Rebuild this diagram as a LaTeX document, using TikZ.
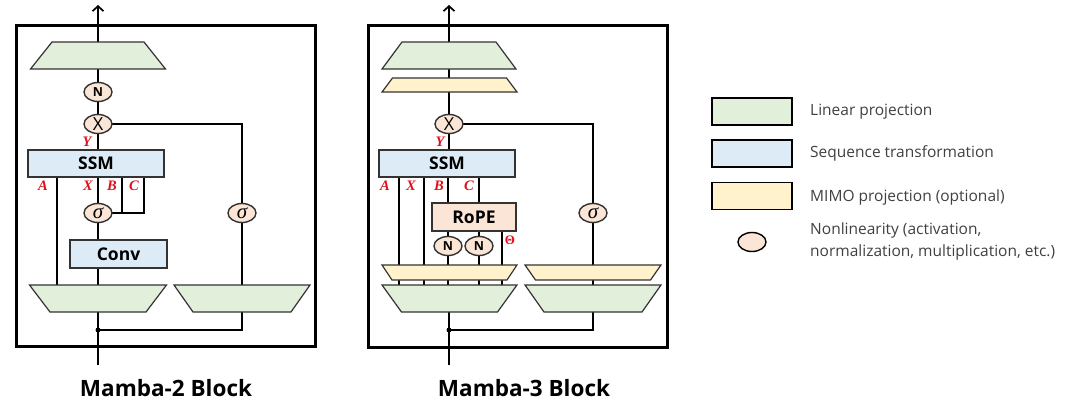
\documentclass[tikz,border=0pt]{standalone}
\usepackage{fontspec}
\setmainfont{Open Sans}
\setsansfont{Open Sans}
\newfontfamily\labfont{Liberation Serif}
\usetikzlibrary{shapes.geometric,arrows.meta,backgrounds}
\definecolor{lingreen}{HTML}{E2EFDA}
\definecolor{seqblue}{HTML}{DDEBF7}
\definecolor{mimoyel}{HTML}{FFF2CC}
\definecolor{nlpeach}{HTML}{FBE5D6}
\definecolor{labred}{HTML}{E0101A}
\definecolor{edgegray}{HTML}{333333}
\definecolor{legtxt}{HTML}{404040}
% name, cx, cy, top width, bottom width, height, style
\newcommand\drawtrap[7]{%
  \coordinate (#1) at (#2,#3);
  \draw[#7] (#1) ++({-(#4)/2},{-(#6)/2}) -- ++(#4,0) -- ++({((#5)-(#4))/2},#6) -- ++({-(#5)},0) -- cycle;}
\begin{document}
\begin{tikzpicture}[x=1pt,y=-1pt,
  lin/.style={draw=edgegray, line width=1.2pt, fill=lingreen},
  mimo/.style={draw=edgegray, line width=1.2pt, fill=mimoyel},
  seq/.style={rectangle, draw=edgegray, line width=1.2pt, fill=seqblue, inner sep=0pt, minimum height=27pt,
    font=\bfseries\fontsize{17.5}{19}\selectfont},
  nl/.style={ellipse, draw=edgegray, line width=1.4pt, fill=nlpeach, minimum width=28pt, minimum height=19pt, inner sep=0pt},
  nlN/.style={nl, font=\bfseries\fontsize{12.5}{13}\selectfont},
  nlX/.style={nl, font=\fontsize{18}{18}\selectfont},
  nlS/.style={nl, font=\labfont\itshape\fontsize{21}{21}\selectfont},
  wire/.style={line width=1.7pt, black},
  upar/.style={-{Straight Barb[length=5pt,width=11pt]}},
  lab/.style={text=labred, font=\labfont\bfseries\itshape\fontsize{14.5}{15}\selectfont, inner sep=0pt},
  frame/.style={line width=3pt, black},
  dotn/.style={circle, fill=black, inner sep=0pt, minimum size=5pt},
  legbox/.style={rectangle, draw=black, line width=1.2pt, minimum width=80pt, minimum height=27pt, inner sep=0pt},
  legtext/.style={anchor=west, text=legtxt, font=\fontsize{15.5}{22}\selectfont, inner sep=0pt, align=left},
  ttl/.style={font=\bfseries\fontsize{22.5}{24}\selectfont, inner sep=0pt}
]
\useasboundingbox (0,0) rectangle (1080,407);

% ---------------- Mamba-2 ----------------
\draw[frame] (16,25) rectangle (315,346);
\coordinate (out2) at (98,5);
\coordinate (in2) at (98,365);
\coordinate (xA2) at (57,0);
\coordinate (xB2) at (122,0);
\coordinate (xC2) at (144,0);
\drawtrap{t2top}{98}{55.5}{92}{135}{27}{lin}
\node[nlN] (n2) at (98,92) {N};
\node[nlX] (x2) at (98,124) {X};
\node[seq, minimum width=136pt] (ssm2) at (96,163.5) {SSM};
\node[nlS] (sig2a) at (98,213) {σ};
\node[seq, minimum width=97pt, minimum height=28pt] (conv2) at (118.5,254) {Conv};
\drawtrap{b2l}{98}{298.5}{137}{96}{27}{lin}
\drawtrap{b2r}{242}{298.5}{136}{98}{27}{lin}
\node[nlS] (sig2b) at (242,213) {σ};
\node[dotn] (dot2) at (98,330) {};
\node[lab] (lY2) at (87,142) {Y};
\node[lab] (lA2) at (43,186) {A};
\node[lab] (lX2) at (88,186) {X};
\node[lab] (lB2) at (112,186) {B};
\node[lab] (lC2) at (134,186) {C};
\node[ttl] (ttl2) at (166,388) {Mamba-2 Block};

% ---------------- Mamba-3 ----------------
\draw[frame] (368,25) rectangle (667,347);
\coordinate (out3) at (449,5);
\coordinate (in3) at (449,365);
\coordinate (xA3) at (399,0);
\coordinate (xX3) at (424,0);
\coordinate (xB3) at (448,0);
\coordinate (xC3) at (479,0);
\coordinate (xT3) at (502,0);
\drawtrap{t3top}{449}{55.5}{94}{134}{27}{lin}
\drawtrap{t3y}{449.5}{85}{114}{135}{14}{mimo}
\node[nlX] (x3) at (449,124) {X};
\node[seq, minimum width=136pt] (ssm3) at (447,163.5) {SSM};
\node[seq, fill=nlpeach, minimum width=84pt, minimum height=28pt] (rope) at (474,217) {RoPE};
\node[nlN] (n3a) at (448,246) {N};
\node[nlN] (n3b) at (479,246) {N};
\drawtrap{b3ly}{449.5}{272.5}{135}{115}{15}{mimo}
\drawtrap{b3lg}{449.5}{298.5}{135}{96}{27}{lin}
\drawtrap{b3ry}{593}{272.5}{136}{115}{15}{mimo}
\drawtrap{b3rg}{593}{298.5}{136}{98}{27}{lin}
\node[nlS] (sig3) at (593,213) {σ};
\node[dotn] (dot3) at (449,330) {};
\node[lab] (lY3) at (440,142) {Y};
\node[lab] (lA3) at (385,186) {A};
\node[lab] (lX3) at (411,186) {X};
\node[lab] (lB3) at (439,186) {B};
\node[lab] (lC3) at (469,186) {C};
\node[lab, font=\labfont\bfseries\fontsize{13}{14}\selectfont] (lT3) at (510,240) {Θ};
\node[ttl] (ttl3) at (524,388) {Mamba-3 Block};

% ---------------- Legend ----------------
\node[legbox, fill=lingreen] (lg1) at (752,111.5) {};
\node[legbox, fill=seqblue] (lg2) at (752,153.5) {};
\node[legbox, fill=mimoyel] (lg3) at (752,196) {};
\node[nl, draw=black] (lg4) at (752,242) {};
\node[legtext] (lt1) at (810,112) {Linear projection};
\node[legtext] (lt2) at (810,153.5) {Sequence transformation};
\node[legtext] (lt3) at (810,197) {MIMO projection (optional)};
\node[legtext] (lt4) at (810,241) {Nonlinearity (activation,\\normalization, multiplication, etc.)};

% ---------------- Wires ----------------
\begin{scope}[on background layer]
  % Mamba-2
  \draw[wire, upar] (t2top) -- (out2);
  \draw[wire] (t2top) -- (x2 |- ssm2.center);
  \draw[wire] (in2) -- (b2l);
  \draw[wire] (x2.center) -| (b2r);
  \draw[wire] (dot2.center) -| (b2r);
  \draw[wire] (ssm2.center -| xA2) -- (b2l -| xA2);
  \draw[wire] (x2 |- ssm2.center) -- (b2l);
  \draw[wire] (ssm2.center -| xB2) -- (xB2 |- sig2a.center);
  \draw[wire] (ssm2.center -| xC2) |- (sig2a.center);
  % Mamba-3
  \draw[wire, upar] (t3top) -- (out3);
  \draw[wire] (t3top) -- (x3 |- ssm3.center);
  \draw[wire] (in3) -- (x3 |- b3lg);
  \draw[wire] (x3.center) -| (b3rg);
  \draw[wire] (dot3.center) -| (b3rg);
  \draw[wire] (ssm3.center -| xA3) -- (b3lg -| xA3);
  \draw[wire] (ssm3.center -| xX3) -- (b3lg -| xX3);
  \draw[wire] (ssm3.center -| xB3) -- (b3lg -| xB3);
  \draw[wire] (ssm3.center -| xC3) -- (b3lg -| xC3);
  \draw[wire] (rope.center -| xT3) -- (b3lg -| xT3);
\end{scope}
\end{tikzpicture}
\end{document}
